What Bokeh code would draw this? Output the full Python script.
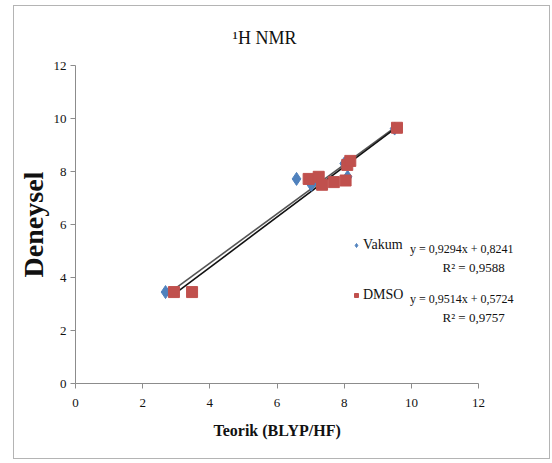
from bokeh.plotting import figure
from bokeh.models import Range1d, Legend, LegendItem, Label, FixedTicker, Title
from bokeh.embed import file_html
from bokeh.resources import INLINE
import numpy as np

vakum_x = [2.68, 6.58, 7.02, 7.15, 8.00, 8.10, 9.50]
vakum_y = [3.45, 7.72, 7.50, 7.70, 8.30, 7.80, 9.62]
dmso_x = [2.93, 3.47, 6.94, 7.24, 7.34, 7.69, 8.04, 8.09, 8.18, 9.57]
dmso_y = [3.45, 3.45, 7.72, 7.80, 7.50, 7.60, 7.66, 8.25, 8.40, 9.65]
vakum_fit = (0.9294, 0.8241, 0.9588)
dmso_fit = (0.9514, 0.5724, 0.9757)
ticks = [0, 2, 4, 6, 8, 10, 12]

FONT = "Liberation Serif"
BLUE = "#4F81BD"
RED = "#C0504D"

# frame extends to the right edge so that the equation labels are not clipped;
# the axis itself is bounded to 0..12
p = figure(width=537, height=454, output_backend="svg", toolbar_location=None,
           x_range=Range1d(0, 14.17), y_range=Range1d(0, 12),
           min_border_left=61, min_border_right=0, min_border_top=59, min_border_bottom=77,
           title="\u00b9H NMR")
p.styles = {"margin": "5px 0 0 13px", "border": "1px solid #b4b4b4"}
p.title.align = "left"
p.title.text_font = FONT
p.title.text_font_size = "18px"
p.title.text_font_style = "normal"
p.title.text_color = "#111111"
p.title.offset = 157
p.title.standoff = 36
p.outline_line_color = None
p.xgrid.visible = False
p.ygrid.visible = False

for ax in (p.xaxis[0], p.yaxis[0]):
    ax.ticker = FixedTicker(ticks=ticks)
    ax.bounds = (0, 12)
    ax.minor_tick_line_color = None
    ax.axis_line_color = "#8c8c8c"
    ax.major_tick_line_color = "#8c8c8c"
    ax.major_tick_out = 5
    ax.major_tick_in = 0
    ax.major_label_text_font = FONT
    ax.major_label_text_font_size = "13px"
    ax.major_label_text_color = "#111111"
    ax.axis_label_text_font = FONT
    ax.axis_label_text_font_style = "bold"
    ax.axis_label_text_color = "#111111"

p.xaxis.major_label_standoff = 10
p.yaxis.axis_label = "Deneysel"
p.yaxis.axis_label_text_font_size = "28px"
p.yaxis.major_label_standoff = 4
p.yaxis.axis_label_standoff = 2

# x-axis title placed below the axis, centred on the 0..12 span
xtitle = Title(text="Teorik (BLYP/HF)", align="left", offset=138, standoff=20,
               text_font=FONT, text_font_size="16px", text_font_style="bold",
               text_color="#111111")
p.add_layout(xtitle, "below")

# trendlines
vx = np.array([min(vakum_x), max(vakum_x)])
dx = np.array([min(dmso_x), max(dmso_x)])
p.line(vx, vakum_fit[0] * vx + vakum_fit[1], line_color="#555555", line_width=1.6)
p.line(dx, dmso_fit[0] * dx + dmso_fit[1], line_color="#111111", line_width=1.6)

rv = p.scatter(vakum_x, vakum_y, marker="diamond", size=13, fill_color=BLUE, line_color=BLUE)
rd = p.scatter(dmso_x, dmso_y, marker="square", size=11, fill_color=RED, line_color=RED)

def mk_legend(label, r, loc):
    return Legend(items=[LegendItem(label=label, renderers=[r])], location=loc,
                  background_fill_alpha=0, border_line_color=None, padding=0, margin=0,
                  glyph_width=10, glyph_height=12, label_height=14, label_standoff=2,
                  label_text_font=FONT, label_text_font_size="14px", label_text_color="#111111")

p.add_layout(mk_legend("Vakum", rv, (276, 130)))
p.add_layout(mk_legend("DMSO", rd, (276, 80)))

def eq(fit):
    a, b, r2 = fit
    return ("y = " + f"{a:.4f}".replace(".", ",") + "x + " + f"{b:.4f}".replace(".", ","),
            "R\u00b2 = " + f"{r2:.4f}".replace(".", ","))

for fit, ye, yr in ((vakum_fit, 5.06, 4.38), (dmso_fit, 3.17, 2.49)):
    s1, s2 = eq(fit)
    p.add_layout(Label(x=11.50, y=ye, text=s1, text_align="center", text_baseline="middle",
                       text_font=FONT, text_font_size="12px", text_color="#111111"))
    p.add_layout(Label(x=11.85, y=yr, text=s2, text_align="center", text_baseline="middle",
                       text_font=FONT, text_font_size="13px", text_color="#111111"))

open("out.html", "w").write(file_html(p, INLINE))
